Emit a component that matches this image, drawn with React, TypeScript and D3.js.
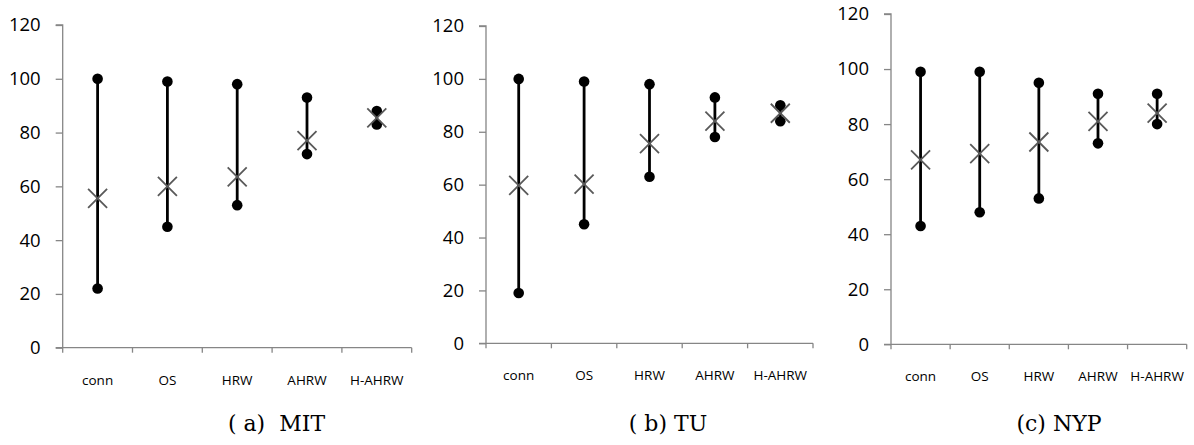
import React, { useEffect, useRef } from "react";
import * as d3 from "d3";

const categories = ["conn", "OS", "HRW", "AHRW", "H-AHRW"];
const yTicks = [0, 20, 40, 60, 80, 100, 120];

// (a) MIT
const mitMax = [100, 99, 98, 93, 88];
const mitMin = [22, 45, 53, 72, 83];
const mitMean = [55.5, 60, 63.5, 77, 85.5];

// (b) TU
const tuMax = [100, 99, 98, 93, 90];
const tuMin = [19, 45, 63, 78, 84];
const tuMean = [59.7, 60.2, 75.5, 84, 87];

// (c) NYP
const nypMax = [99, 99, 95, 91, 91];
const nypMin = [43, 48, 53, 73, 80];
const nypMean = [67, 69.3, 73.5, 81, 84];

const captions = ["( a)  MIT", "( b) TU", "(c) NYP"];

const panels = [
  { max: mitMax, min: mitMin, mean: mitMean, caption: captions[0], left: 62.7, right: 411.7, top: 25, bottom: 347.7, capX: 276.5 },
  { max: tuMax, min: tuMin, mean: tuMean, caption: captions[1], left: 486, right: 813, top: 26, bottom: 343.3, capX: 668 },
  { max: nypMax, min: nypMin, mean: nypMean, caption: captions[2], left: 891, right: 1186.7, top: 14, bottom: 344.3, capX: 1059 },
];

const App = () => {
  const ref = useRef<SVGSVGElement>(null);

  useEffect(() => {
    const svg = d3.select(ref.current);
    svg.selectAll("*").remove();

    const axisColor = "#868686";

    panels.forEach((p) => {
      const g = svg.append("g");

      const x = d3.scaleBand().domain(categories).range([p.left, p.right]).padding(0);
      const y = d3.scaleLinear().domain([0, 120]).range([p.bottom, p.top]);

      // y axis
      const ya = g.append("g")
        .attr("transform", `translate(${p.left},0)`)
        .call(d3.axisLeft(y).tickValues(yTicks).tickSize(7).tickPadding(15));
      ya.select(".domain").attr("stroke", axisColor).attr("stroke-width", 1.3).attr("d", `M-7,${y(120)}H0V${y(0)}`);
      ya.selectAll(".tick line").attr("stroke", axisColor).attr("stroke-width", 1.3);
      ya.selectAll(".tick text")
        .attr("fill", "#000")
        .style("font-family", "'Open Sans', sans-serif")
        .style("font-size", "18.5px");

      // x axis, ticks on category boundaries
      const xa = g.append("g");
      xa.append("line")
        .attr("x1", p.left - 7).attr("x2", p.right)
        .attr("y1", y(0)).attr("y2", y(0))
        .attr("stroke", axisColor).attr("stroke-width", 1.3);
      const edges = categories.map((c) => x(c)!).concat([p.right]);
      xa.selectAll("line.tk")
        .data(edges)
        .enter()
        .append("line")
        .attr("class", "tk")
        .attr("x1", (d) => d).attr("x2", (d) => d)
        .attr("y1", y(0)).attr("y2", y(0) + 5)
        .attr("stroke", axisColor).attr("stroke-width", 1.3);
      xa.selectAll("text")
        .data(categories)
        .enter()
        .append("text")
        .attr("x", (d) => x(d)! + x.bandwidth() / 2)
        .attr("y", y(0) + 37)
        .attr("text-anchor", "middle")
        .style("font-family", "'Open Sans', sans-serif")
        .style("font-size", "13.5px")
        .text((d) => d);

      const cx = (i: number) => x(categories[i])! + x.bandwidth() / 2;

      // range lines
      g.selectAll(".rng")
        .data(categories)
        .enter()
        .append("line")
        .attr("x1", (_, i) => cx(i)).attr("x2", (_, i) => cx(i))
        .attr("y1", (_, i) => y(p.max[i])).attr("y2", (_, i) => y(p.min[i]))
        .attr("stroke", "#000").attr("stroke-width", 2.8);

      // end dots
      [p.max, p.min].forEach((vals) => {
        g.selectAll(null)
          .data(vals)
          .enter()
          .append("circle")
          .attr("cx", (_, i) => cx(i))
          .attr("cy", (d) => y(d))
          .attr("r", 5.3)
          .attr("fill", "#000");
      });

      // mean markers
      const s = 9.5;
      g.selectAll(".mean")
        .data(p.mean)
        .enter()
        .append("path")
        .attr("d", (d, i) => {
          const px = cx(i), py = y(d);
          return `M${px - s},${py - s}L${px + s},${py + s}M${px - s},${py + s}L${px + s},${py - s}`;
        })
        .attr("stroke", "#595959")
        .attr("stroke-width", 1.8)
        .attr("fill", "none");

      // caption
      g.append("text")
        .attr("x", p.capX)
        .attr("y", 431)
        .attr("text-anchor", "middle")
        .attr("xml:space", "preserve")
        .style("white-space", "pre")
        .style("font-family", "'DejaVu Serif', serif")
        .style("font-size", "22px")
        .text(p.caption);
    });
  }, []);

  return (
    <svg
      ref={ref}
      width={1194}
      height={445}
      style={{ position: "absolute", left: 0, top: 0, background: "#fff" }}
    ></svg>
  );
};

export default App;
